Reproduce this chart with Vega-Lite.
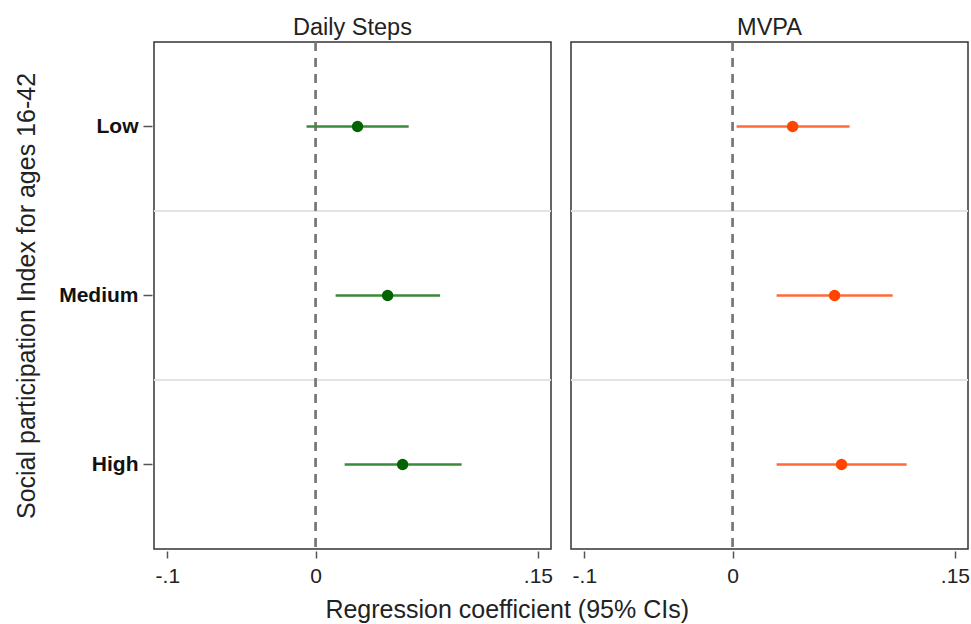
{
  "$schema": "https://vega.github.io/schema/vega-lite/v6.json",
  "padding": {"left": 14, "top": 15, "right": 0, "bottom": 5},
  "background": "white",
  "data": {"values": [
    {"panel": "Daily Steps", "cat": "Low", "est": 0.0283, "lo": -0.0061, "hi": 0.0628},
    {"panel": "Daily Steps", "cat": "Medium", "est": 0.0486, "lo": 0.0135, "hi": 0.0840},
    {"panel": "Daily Steps", "cat": "High", "est": 0.0587, "lo": 0.0196, "hi": 0.0985},
    {"panel": "MVPA", "cat": "Low", "est": 0.0405, "lo": 0.0027, "hi": 0.0789},
    {"panel": "MVPA", "cat": "Medium", "est": 0.0688, "lo": 0.0297, "hi": 0.1080},
    {"panel": "MVPA", "cat": "High", "est": 0.0735, "lo": 0.0297, "hi": 0.1174}
  ]},
  "title": {"text": "Regression coefficient (95% CIs)", "orient": "bottom", "anchor": "middle", "fontSize": 25, "fontWeight": "normal", "font": "Liberation Sans", "color": "#222", "offset": 12, "dx": 15},
  "facet": {"column": {"field": "panel", "type": "nominal", "header": {"title": null, "labelFontSize": 23.5, "labelFont": "Liberation Sans", "labelColor": "#222", "labelPadding": 1}}},
  "spacing": 16,
  "spec": {
    "width": 397,
    "height": 507,
    "layer": [
      {
        "transform": [{"filter": "datum.cat != 'Low'"}],
        "mark": {"type": "rule", "color": "#e3e3e3", "strokeWidth": 2},
        "encoding": {
          "y": {"field": "cat", "type": "nominal", "bandPosition": 0, "sort": ["Low", "Medium", "High"]}
        }
      },
      {
        "mark": {"type": "rule", "color": "#777777", "strokeWidth": 2, "strokeDash": [9, 7]},
        "encoding": {"x": {"datum": 0, "type": "quantitative"}}
      },
      {
        "mark": {"type": "rule", "strokeWidth": 2.5},
        "encoding": {
          "y": {"field": "cat", "type": "nominal", "sort": ["Low", "Medium", "High"]},
          "x": {"field": "lo", "type": "quantitative"},
          "x2": {"field": "hi"},
          "color": {"field": "panel", "type": "nominal", "legend": null, "scale": {"domain": ["Daily Steps", "MVPA"], "range": ["#3a8a3a", "#ff6a3a"]}}
        }
      },
      {
        "mark": {"type": "point", "filled": true, "opacity": 1, "size": 130},
        "encoding": {
          "y": {"field": "cat", "type": "nominal", "sort": ["Low", "Medium", "High"],
            "scale": {"type": "band", "paddingInner": 0, "paddingOuter": 0},
            "axis": {"title": "Social participation Index for ages 16-42", "titleFontSize": 25, "titleFontWeight": "normal", "titleColor": "#222", "titlePadding": 19, "labelFontSize": 21, "labelFontWeight": "bold", "labelColor": "#111", "tickSize": 9, "tickColor": "#555", "tickWidth": 1.5, "labelPadding": 5, "domain": false, "grid": false}},
          "x": {"field": "est", "type": "quantitative",
            "scale": {"domain": [-0.109, 0.1588], "nice": false, "zero": false},
            "axis": {"title": null, "values": [-0.1, 0, 0.15], "labelExpr": "datum.value == 0 ? '0' : replace(replace(format(datum.value, '.2~f'), '0.', '.'), '\u2212', '-')", "labelFontSize": 21, "labelColor": "#222", "tickSize": 7, "tickColor": "#555", "tickWidth": 1.5, "labelPadding": 7, "domain": false, "grid": false}},
          "color": {"field": "panel", "type": "nominal", "legend": null, "scale": {"domain": ["Daily Steps", "MVPA"], "range": ["#006400", "#ff4500"]}}
        }
      }
    ],
    "resolve": {"scale": {"color": "independent"}}
  },
  "config": {
    "font": "Liberation Sans",
    "view": {"stroke": "#333", "strokeWidth": 1.5}
  }
}
